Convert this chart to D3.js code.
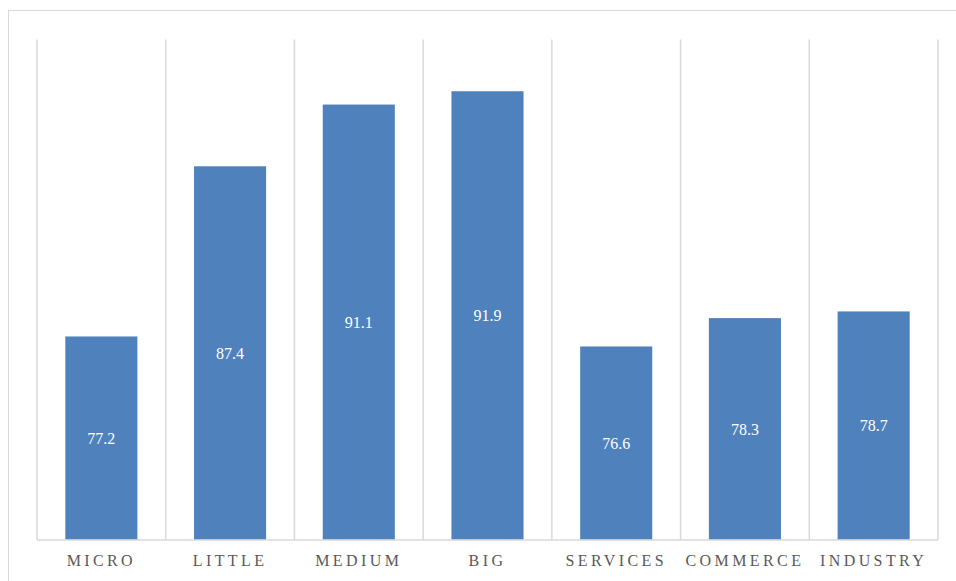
<!DOCTYPE html>
<html><head><meta charset="utf-8">
<script src="https://cdn.jsdelivr.net/npm/d3@7"></script>
<style>body{margin:0;background:#fff;}svg{display:block;}</style>
</head><body>
<script>
const categories = ["MICRO","LITTLE","MEDIUM","BIG","SERVICES","COMMERCE","INDUSTRY"];
const values = [77.2, 87.4, 91.1, 91.9, 76.6, 78.3, 78.7];
const yDomain = [65, 95];

(function () {
const W = 956, H = 581;
const svg = d3.select("body").append("svg").attr("width", W).attr("height", H);

svg.append("rect").attr("x", 8.5).attr("y", 10.5).attr("width", 960).attr("height", 600)
  .attr("fill", "none").attr("stroke", "#d9d9d9").attr("stroke-width", 1);

const mLeft = 37, mRight = 938, mTop = 39.5, mBottom = 540;
const x = d3.scaleBand().domain(categories).range([mLeft, mRight]).paddingInner(0.44).paddingOuter(0.22);
const y = d3.scaleLinear().domain(yDomain).range([mBottom, mTop]);

const bounds = d3.range(categories.length + 1).map(i => mLeft + i * (mRight - mLeft) / categories.length);
svg.append("g").selectAll("line").data(bounds).join("line")
  .attr("x1", d => d).attr("x2", d => d).attr("y1", mTop).attr("y2", mBottom)
  .attr("stroke", "#d9d9d9").attr("stroke-width", 1.5);
svg.append("line").attr("x1", mLeft).attr("x2", mRight).attr("y1", mBottom).attr("y2", mBottom)
  .attr("stroke", "#d9d9d9").attr("stroke-width", 1.5);

svg.append("g").selectAll("rect").data(values).join("rect")
  .attr("x", (d, i) => x(categories[i])).attr("width", x.bandwidth())
  .attr("y", d => y(d)).attr("height", d => mBottom - 0.75 - y(d))
  .attr("fill", "#4f81bd");

svg.append("g").selectAll("text").data(values).join("text")
  .attr("x", (d, i) => x(categories[i]) + x.bandwidth() / 2)
  .attr("y", d => (y(d) + mBottom) / 2)
  .attr("dy", "0.35em").attr("text-anchor", "middle")
  .attr("fill", "#ffffff").attr("font-family", "Liberation Serif, Times New Roman, serif")
  .attr("font-size", 16).text(d => d.toFixed(1));

svg.append("g").selectAll("text").data(categories).join("text")
  .attr("x", d => x(d) + x.bandwidth() / 2)
  .attr("y", 566).attr("text-anchor", "middle")
  .attr("fill", "#595959").attr("font-family", "Liberation Serif, Times New Roman, serif")
  .attr("font-size", 16).attr("letter-spacing", "3.4px").text(d => d);
})();
</script>
</body></html>
